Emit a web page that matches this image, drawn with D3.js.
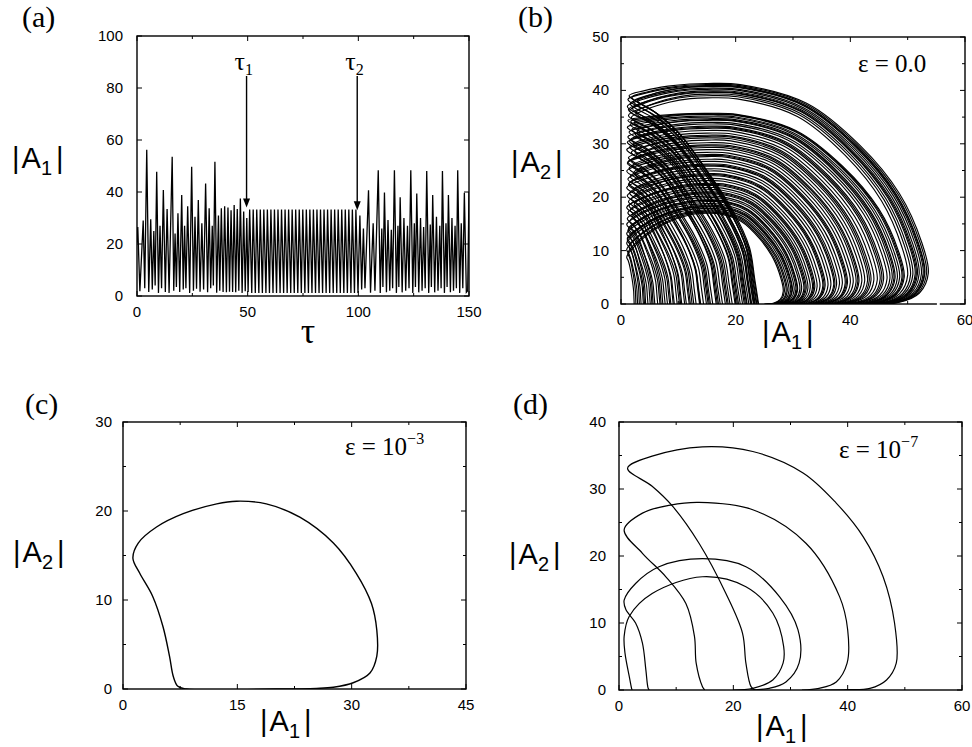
<!DOCTYPE html>
<html>
<head>
<meta charset="utf-8">
<script src="https://cdn.jsdelivr.net/npm/d3@7"></script>
<style>
  body { margin: 0; background: #fff; }
  svg { display: block; }
  .tick-label { font-family: Arial, "Liberation Sans", Helvetica, sans-serif; font-size: 15px; fill: #000; }
  .amp { font-family: Arial, "Liberation Sans", Helvetica, sans-serif; font-size: 29px; fill: #000; }
  .serif { font-family: "Times New Roman", "Liberation Serif", Times, serif; fill: #000; }
</style>
</head>
<body>
<svg id="fig" width="972" height="747"></svg>
<script>
// (a) |A1| against tau: local extremes, [tau, |A1|]
const a1Series = [
  [0, 20.5], [0.35, 26.5], [1.3, 1.8], [2.8, 29.0], [3.5, 3.0], [4.4, 56.2], [5.3, 1.5], [6.2, 29.5],
  [6.9, 2.5], [7.6, 25.0], [8.2, 4.0], [8.9, 47.8], [9.7, 1.2], [10.4, 27.0], [11.1, 3.0], [11.9, 40.8],
  [12.8, 1.5], [13.6, 33.5], [14.5, 1.2], [15.9, 53.6], [16.6, 2.0], [17.2, 24.0], [17.8, 3.5], [18.5, 31.8],
  [19.3, 1.5], [20.2, 38.8], [20.9, 2.5], [21.5, 27.0], [22.1, 3.0], [22.9, 34.5], [23.8, 1.2], [24.7, 49.7],
  [25.5, 2.0], [26.2, 30.5], [26.9, 2.8], [27.7, 36.9], [28.5, 1.6], [29.3, 28.0], [30.1, 2.5], [31.0, 43.3],
  [31.9, 1.4], [32.6, 33.7], [33.3, 3.0], [34.0, 27.0], [34.5, 4.0], [35.2, 51.6], [36.0, 1.3], [36.8, 31.0],
  [37.4, 2.0], [38.1, 33.7], [38.9, 1.5], [39.6, 34.5], [40.4, 1.4], [41.1, 34.0], [41.8, 1.6], [42.5, 33.0],
  [43.2, 1.5], [43.9, 35.0], [44.6, 1.4], [45.3, 33.5], [46.0, 2.0], [46.7, 37.5], [47.5, 1.2], [48.2, 32.5],
  [48.9, 1.8], [49.6, 30.0], [50.2, 1.5],
  [50.9, 33.3], [51.85, 1.2], [52.5, 33.3], [53.45, 1.2], [54.1, 33.3], [55.05, 1.2], [55.7, 33.3], [56.65, 1.2],
  [57.3, 33.3], [58.25, 1.2], [58.9, 33.3], [59.85, 1.2], [60.5, 33.3], [61.45, 1.2], [62.1, 33.3], [63.05, 1.2],
  [63.7, 33.3], [64.65, 1.2], [65.3, 33.3], [66.25, 1.2], [66.9, 33.3], [67.85, 1.2], [68.5, 33.3], [69.45, 1.2],
  [70.1, 33.3], [71.05, 1.2], [71.7, 33.3], [72.65, 1.2], [73.3, 33.3], [74.25, 1.2], [74.9, 33.3], [75.85, 1.2],
  [76.5, 33.3], [77.45, 1.2], [78.1, 33.3], [79.05, 1.2], [79.7, 33.3], [80.65, 1.2], [81.3, 33.3], [82.25, 1.2],
  [82.9, 33.3], [83.85, 1.2], [84.5, 33.3], [85.45, 1.2], [86.1, 33.3], [87.05, 1.2], [87.7, 33.3], [88.65, 1.2],
  [89.3, 33.3], [90.25, 1.2], [90.9, 33.3], [91.85, 1.2], [92.5, 33.3], [93.45, 1.2], [94.1, 33.3], [95.05, 1.2],
  [95.7, 33.3], [96.65, 1.2], [97.3, 33.3], [98.25, 1.2], [98.9, 33.3], [99.85, 1.2],
  [100.7, 31.0], [101.5, 2.5], [102.3, 26.0], [103.0, 3.0], [104.6, 40.7], [105.5, 1.3], [106.7, 28.0], [107.5, 2.0],
  [109.0, 48.4], [109.9, 1.2], [110.6, 26.0], [111.1, 3.5], [111.8, 39.8], [112.7, 1.4], [113.4, 29.2], [114.2, 2.0],
  [114.9, 25.5], [115.5, 3.0], [116.3, 48.4], [117.2, 1.2], [117.9, 27.0], [118.3, 3.5], [118.9, 38.0], [119.8, 1.4],
  [120.6, 30.0], [121.4, 2.0], [122.2, 27.0], [122.9, 3.0], [123.7, 48.4], [124.6, 1.2], [125.3, 28.0], [125.8, 3.5],
  [126.4, 39.4], [127.3, 1.4], [128.1, 30.0], [128.8, 2.0], [129.5, 26.5], [130.2, 3.0], [130.9, 48.1], [131.8, 1.2],
  [132.5, 27.5], [133.0, 3.5], [133.6, 38.8], [134.5, 1.4], [135.3, 30.5], [136.0, 2.0], [136.8, 27.0], [137.4, 3.0],
  [138.0, 48.1], [138.9, 1.2], [139.6, 28.0], [140.1, 3.5], [140.7, 38.8], [141.6, 1.4], [142.3, 30.0], [143.0, 2.0],
  [143.7, 27.0], [144.3, 3.0], [144.9, 48.4], [145.8, 1.2], [146.5, 28.0], [147.2, 3.0], [147.9, 39.7], [148.8, 1.4],
  [149.4, 2.0], [150, 40.0],
];

// arrows in (a): [tau, tip value, label]
const tauMarks = [
  [49.5, 34.0, "1"],
  [99.5, 33.0, "2"],
];

// (b) loops of the eps = 0 attractor: [cusp |A1|, cusp |A2|, top |A2|, right |A1|, foot |A1|]
const bLoops = [
  [1.4, 39.0, 41.3, 53.6, 24.0], [1.9, 38.7, 41.1, 53.3, 23.7], [1.2, 38.3, 40.9, 53.0, 23.9],
  [2.9, 38.1, 40.8, 52.9, 23.3], [2.2, 37.9, 40.7, 52.7, 23.4], [1.6, 37.5, 40.4, 52.4, 23.6],
  [1.1, 37.0, 40.2, 52.0, 23.1], [2.0, 36.6, 39.9, 51.7, 22.8], [1.3, 36.4, 39.7, 51.5, 22.7],
  [1.5, 36.2, 39.6, 51.3, 23.2], [2.6, 35.8, 39.3, 50.9, 22.6], [1.3, 35.3, 39.0, 50.5, 22.3],
  [1.8, 34.9, 38.6, 50.0, 22.0], [1.2, 34.4, 35.7, 49.4, 21.9], [1.7, 34.2, 35.6, 49.2, 21.7],
  [2.3, 34.0, 35.5, 49.0, 21.5], [1.6, 33.6, 35.2, 48.6, 21.2], [1.1, 33.1, 35.0, 48.2, 20.8],
  [1.9, 32.7, 34.7, 47.8, 20.5], [2.8, 32.4, 34.5, 47.6, 20.3], [1.4, 32.2, 34.4, 47.3, 20.1],
  [2.5, 31.8, 34.0, 46.9, 19.9], [1.2, 31.3, 33.7, 46.4, 19.4], [1.7, 30.8, 33.3, 45.8, 19.0],
  [1.5, 30.5, 33.1, 45.5, 18.7], [1.1, 30.3, 32.9, 45.2, 18.5], [2.1, 29.9, 32.5, 44.7, 18.2],
  [1.5, 29.4, 32.0, 44.1, 17.7], [1.0, 28.9, 31.6, 43.6, 17.3], [2.4, 28.6, 31.4, 43.3, 17.0],
  [1.8, 28.4, 31.1, 43.0, 16.8], [2.7, 27.9, 30.7, 42.5, 16.6], [1.3, 27.4, 30.2, 42.0, 16.0],
  [1.7, 26.9, 29.8, 41.5, 15.6], [1.2, 26.6, 29.6, 41.3, 15.4], [1.1, 26.4, 29.3, 41.0, 15.2],
  [2.0, 25.9, 28.9, 40.5, 14.9], [1.4, 25.4, 28.4, 40.0, 14.4], [1.0, 24.9, 28.0, 39.5, 13.9],
  [2.2, 24.6, 27.8, 39.3, 13.8], [2.4, 24.4, 27.6, 39.1, 13.7], [1.6, 23.9, 27.1, 38.6, 13.1],
  [1.2, 23.4, 26.7, 38.1, 12.7], [1.9, 22.9, 26.2, 37.6, 12.4], [1.4, 22.6, 26.0, 37.3, 12.1],
  [1.3, 22.4, 25.8, 37.1, 11.9], [1.0, 21.8, 25.3, 36.6, 11.4], [2.1, 21.3, 24.9, 36.1, 11.1],
  [1.5, 20.8, 24.4, 35.6, 10.6], [2.6, 20.5, 24.2, 35.4, 10.4], [1.1, 20.3, 24.0, 35.2, 10.2],
  [1.8, 19.7, 23.5, 34.7, 9.8], [1.3, 19.2, 23.1, 34.2, 9.3], [2.3, 18.7, 22.6, 33.8, 9.1],
  [1.4, 18.4, 22.4, 33.6, 8.7], [1.0, 18.1, 22.2, 33.4, 8.5], [1.6, 17.6, 21.8, 33.0, 8.1],
  [1.2, 17.1, 21.4, 32.6, 7.7], [1.9, 16.6, 21.0, 32.3, 7.3], [2.0, 16.3, 20.8, 32.1, 7.0],
  [1.1, 16.0, 20.6, 31.9, 6.8], [1.5, 15.5, 20.2, 31.5, 6.4], [1.0, 14.9, 19.9, 31.2, 5.9],
  [1.8, 14.4, 19.5, 30.8, 5.6], [1.3, 14.1, 19.4, 30.7, 5.4], [1.2, 13.8, 19.2, 30.5, 5.1],
  [1.0, 13.2, 18.8, 30.2, 4.7], [1.6, 12.6, 18.5, 29.9, 4.3], [1.1, 12.3, 18.3, 29.8, 4.1],
  [1.1, 12.0, 18.2, 29.6, 3.9], [1.0, 11.4, 17.9, 29.3, 3.5], [1.4, 10.8, 17.6, 29.0, 3.2],
  [1.0, 10.2, 17.4, 28.8, 2.9], [1.2, 9.5, 17.2, 28.5, 2.6], [1.0, 8.8, 17.0, 28.3, 2.3],
];

// small break in the lower axis line of (b), in |A1|
const bAxisGap = [55.1, 55.6];

// (c) eps = 1e-3 limit cycle, [|A1|, |A2|]
const cLoop = [
  [20, 0], [8.3, 0], [7.2, 0.3], [6.6, 1.4], [6.1, 3.7], [5.25, 7], [3.9, 10.4], [2.2, 13], [1.3, 14.7],
  [2.0, 16.4], [4.4, 18.2], [7.9, 19.7], [12.3, 20.8], [14.9, 21.1], [18.8, 20.8], [23.2, 19.3],
  [27.6, 16.4], [30.6, 13], [32.6, 9.6], [33.3, 6.6], [33.3, 3.7], [32.4, 1.8], [30.2, 0.7],
  [27.6, 0.2], [25.4, 0.07], [20, 0],
];

// (d) eps = 1e-7 period-4 orbit, one list per turn
const dLoops = [
  [[23.8, 0], [23.1, 0.5], [22.2, 4], [21.6, 8.5], [18.7, 14.4], [14, 21.9], [9.4, 27.4], [5.8, 30.4],
   [1.5, 33.1], [5.8, 34.9], [14.6, 36.3], [23.4, 35.6], [32.2, 32.4], [38, 27.9], [42.7, 22.9],
   [46.2, 16.9], [48.2, 10], [48.5, 4], [46.8, 1.5], [43.9, 0.25], [40, 0.05], [36, 0]],
  [[15, 0], [14.6, 0.5], [13.5, 4], [13.2, 8], [11.7, 12.9], [8.2, 16.9], [4.1, 20.4], [0.9, 23.9],
   [4.1, 26.4], [9, 27.6], [14, 28], [23.4, 26.9], [32.7, 21.9], [38.6, 13.9], [40, 9], [39.9, 4],
   [38, 1.2], [35, 0.25], [32, 0]],
  [[5.3, 0], [5.1, 0.25], [4.7, 3], [4.1, 7], [2.9, 10], [1.2, 12], [0.9, 13.4], [2.9, 15.9],
   [7, 18.4], [14.6, 19.6], [22.2, 18.4], [28.1, 13.9], [31.3, 9], [31.5, 4], [29.2, 1.2],
   [26.3, 0.25], [23, 0]],
  [[2.3, 0], [2.2, 0.25], [1.8, 2], [1.05, 5.5], [0.9, 8], [1.8, 11], [5.8, 14.4], [14.6, 16.9],
   [22.2, 15.4], [26.9, 11.5], [28.8, 6.5], [28.7, 4], [26.9, 1.5], [23.4, 0.25], [20, 0]],
];

const panels = {
  a: { left: 137, right: 469, top: 36, bottom: 296, xDomain: [0, 150], yDomain: [0, 100],
       xTicks: [0, 50, 100, 150], xMinor: [25, 75, 125], yTicks: [0, 20, 40, 60, 80, 100], yMinor: [], yGap: 14 },
  b: { left: 621, right: 965, top: 37, bottom: 304, xDomain: [0, 60], yDomain: [0, 50],
       xTicks: [0, 20, 40, 60], xMinor: [10, 30, 50], yTicks: [0, 10, 20, 30, 40, 50], yMinor: [5, 15, 25, 35, 45], yGap: 12 },
  c: { left: 123, right: 466, top: 422, bottom: 689, xDomain: [0, 45], yDomain: [0, 30],
       xTicks: [0, 15, 30, 45], xMinor: [7.5, 22.5, 37.5], yTicks: [0, 10, 20, 30], yMinor: [5, 15, 25], yGap: 11 },
  d: { left: 619, right: 962, top: 422, bottom: 690, xDomain: [0, 60], yDomain: [0, 40],
       xTicks: [0, 20, 40, 60], xMinor: [10, 30, 50], yTicks: [0, 10, 20, 30, 40], yMinor: [5, 15, 25, 35], yGap: 13 },
};

const svg = d3.select("#fig");
svg.append("rect").attr("width", 972).attr("height", 747).attr("fill", "#fff");

function makePanel(key) {
  const cfg = panels[key];
  const x = d3.scaleLinear().domain(cfg.xDomain).range([cfg.left, cfg.right]);
  const y = d3.scaleLinear().domain(cfg.yDomain).range([cfg.bottom, cfg.top]);
  const g = svg.append("g");

  g.append("clipPath").attr("id", `clip-${key}`)
    .append("rect")
    .attr("x", cfg.left).attr("y", cfg.top)
    .attr("width", cfg.right - cfg.left).attr("height", cfg.bottom - cfg.top);

  const plot = g.append("g").attr("clip-path", `url(#clip-${key})`);
  return { cfg, x, y, g, plot };
}

function drawFrame(p) {
  const { cfg, x, y, g } = p;
  const ticks = g.append("g").attr("stroke", "#000").attr("stroke-width", 1);

  const xt = cfg.xTicks.map((v) => [v, 5]).concat(cfg.xMinor.map((v) => [v, 3]));
  xt.forEach(([v, len]) => {
    ticks.append("line").attr("x1", x(v)).attr("x2", x(v)).attr("y1", cfg.bottom).attr("y2", cfg.bottom - len);
    ticks.append("line").attr("x1", x(v)).attr("x2", x(v)).attr("y1", cfg.top).attr("y2", cfg.top + len);
  });
  const yt = cfg.yTicks.map((v) => [v, 5]).concat(cfg.yMinor.map((v) => [v, 3]));
  yt.forEach(([v, len]) => {
    ticks.append("line").attr("y1", y(v)).attr("y2", y(v)).attr("x1", cfg.left).attr("x2", cfg.left + len);
    ticks.append("line").attr("y1", y(v)).attr("y2", y(v)).attr("x1", cfg.right).attr("x2", cfg.right - len);
  });

  g.append("rect")
    .attr("x", cfg.left).attr("y", cfg.top)
    .attr("width", cfg.right - cfg.left).attr("height", cfg.bottom - cfg.top)
    .attr("fill", "none").attr("stroke", "#000").attr("stroke-width", 1.4);

  g.selectAll(".xl").data(cfg.xTicks).join("text")
    .attr("class", "tick-label")
    .attr("x", (d) => x(d)).attr("y", cfg.bottom + 21)
    .attr("text-anchor", "middle")
    .text((d) => d);

  g.selectAll(".yl").data(cfg.yTicks).join("text")
    .attr("class", "tick-label")
    .attr("x", cfg.left - cfg.yGap).attr("y", (d) => y(d) + 5)
    .attr("text-anchor", "end")
    .text((d) => d);
}

function ampLabel(px, py, idx) {
  const t = svg.append("text").attr("class", "amp").attr("x", px).attr("y", py);
  t.append("tspan").text("|");
  t.append("tspan").attr("dx", 2).text("A");
  t.append("tspan").attr("font-size", 20).attr("dy", 7).text(idx);
  t.append("tspan").attr("dy", -7).attr("dx", 4).text("|");
}

function panelLabel(px, py, s) {
  svg.append("text").attr("class", "serif").attr("font-size", 30)
    .attr("x", px).attr("y", py).text(s);
}

function epsLabel(px, py, base, sup) {
  const t = svg.append("text").attr("class", "serif").attr("font-size", 25)
    .attr("x", px).attr("y", py);
  t.append("tspan").text(base);
  if (sup) t.append("tspan").attr("font-size", 16).attr("dy", -11).text(sup);
}

// ---------- (a) ----------
const pa = makePanel("a");
pa.plot.append("path")
  .datum(a1Series)
  .attr("fill", "none")
  .attr("stroke", "#000")
  .attr("stroke-width", 1.3)
  .attr("d", d3.line().x((d) => pa.x(d[0])).y((d) => pa.y(d[1])));
drawFrame(pa);

tauMarks.forEach(([t, v, sub]) => {
  const ax = pa.x(t);
  const tip = pa.y(v);
  svg.append("line").attr("x1", ax).attr("x2", ax).attr("y1", 76).attr("y2", tip - 6)
    .attr("stroke", "#000").attr("stroke-width", 1.4);
  svg.append("path")
    .attr("d", `M${ax},${tip} L${ax - 3.5},${tip - 9} L${ax + 3.5},${tip - 9} Z`)
    .attr("fill", "#000");
  const lab = svg.append("text").attr("class", "serif").attr("font-size", 26)
    .attr("x", ax - 12).attr("y", 70);
  lab.append("tspan").text("τ");
  lab.append("tspan").attr("font-size", 16).attr("dy", 5).text(sub);
});

panelLabel(22, 27, "(a)");
ampLabel(12, 168, "1");
svg.append("text").attr("class", "serif").attr("font-size", 36)
  .attr("x", 308).attr("y", 343).attr("text-anchor", "middle").text("τ");

// ---------- (b) ----------
const pb = makePanel("b");
function loopShape([cx, C, T, R, F]) {
  const a = R - 15;
  const desc = [[1, 0], [0.97, 0.12], [0.93, 0.27], [0.8, 0.45], [0.58, 0.66], [0.37, 0.83], [0.18, 0.93]]
    .map(([xf, yf]) => [cx + xf * (F - cx), yf * C]);
  const upper = [[0, 0], [0.2, 0.42], [0.5, 0.78], [0.78, 0.96], [1, 1]]
    .map(([xf, yf]) => [cx + xf * (15 - cx), C + yf * (T - C)]);
  const outer = [[0.15, 0.995], [0.45, 0.91], [0.69, 0.72], [0.87, 0.5], [0.97, 0.28], [1, 0.14], [0.96, 0.05], [0.87, 0.008], [0.75, 0]]
    .map(([xf, yf]) => [15 + xf * a, yf * T]);
  return desc.concat(upper, outer);
}
const lineB = d3.line().curve(d3.curveCatmullRom.alpha(0.5))
  .x((d) => pb.x(d[0])).y((d) => pb.y(d[1]));
pb.plot.selectAll("path.loop")
  .data(bLoops)
  .join("path")
  .attr("class", "loop")
  .attr("fill", "none")
  .attr("stroke", "#000")
  .attr("stroke-width", 1.15)
  .attr("d", (d) => lineB(loopShape(d)));
drawFrame(pb);
pb.g.append("rect")
  .attr("x", pb.x(bAxisGap[0])).attr("y", panels.b.bottom - 1.5)
  .attr("width", pb.x(bAxisGap[1]) - pb.x(bAxisGap[0])).attr("height", 3)
  .attr("fill", "#fff");
panelLabel(518, 27, "(b)");
ampLabel(511, 172, "2");
ampLabel(762, 342, "1");
epsLabel(858, 72, "ε = 0.0");

// ---------- (c) ----------
const pc = makePanel("c");
pc.plot.append("path")
  .datum(cLoop)
  .attr("fill", "none")
  .attr("stroke", "#000")
  .attr("stroke-width", 1.4)
  .attr("d", d3.line().curve(d3.curveCatmullRom.alpha(0.5)).x((d) => pc.x(d[0])).y((d) => pc.y(d[1])));
drawFrame(pc);
panelLabel(25, 414, "(c)");
ampLabel(13, 562, "2");
ampLabel(260, 731, "1");
epsLabel(345, 455, "ε = 10", "−3");

// ---------- (d) ----------
const pd = makePanel("d");
const lineD = d3.line().curve(d3.curveCatmullRom.alpha(0.5))
  .x((d) => pd.x(d[0])).y((d) => pd.y(d[1]));
pd.plot.selectAll("path.turn")
  .data(dLoops)
  .join("path")
  .attr("class", "turn")
  .attr("fill", "none")
  .attr("stroke", "#000")
  .attr("stroke-width", 1.2)
  .attr("d", lineD);
drawFrame(pd);
panelLabel(513, 414, "(d)");
ampLabel(509, 564, "2");
ampLabel(756, 736, "1");
epsLabel(839, 458, "ε = 10", "−7");
</script>
</body>
</html>
